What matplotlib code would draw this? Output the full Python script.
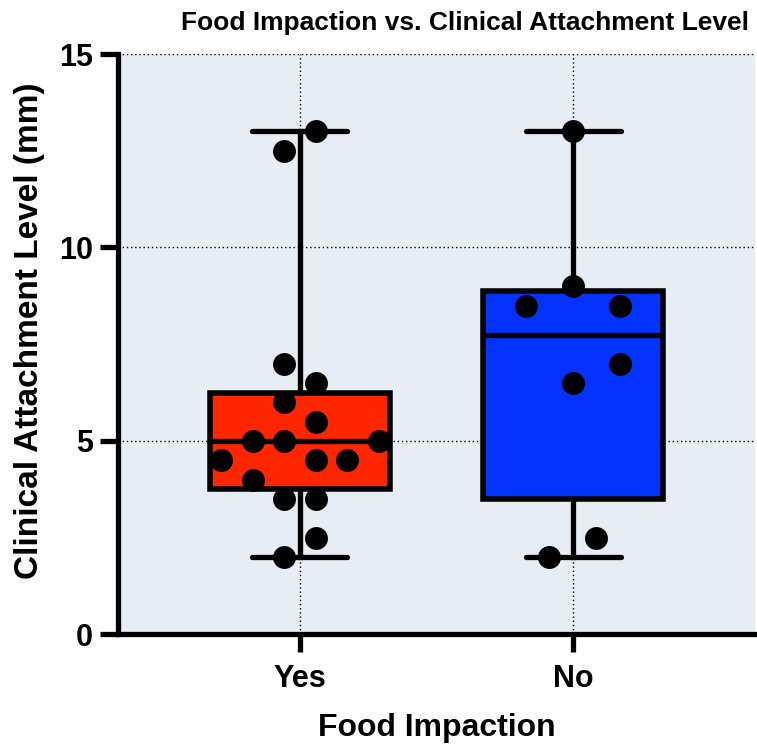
import numpy as np
import matplotlib
matplotlib.use("Agg")
import matplotlib.pyplot as plt

plt.rcParams['font.family'] = ['Liberation Sans', 'DejaVu Sans']
plt.rcParams['font.weight'] = 'bold'

# clinical attachment level (mm) per group
groups = ["Yes", "No"]
cal_yes = [7.0, 6.5, 6.0, 5.5, 5.0, 5.0, 5.0, 4.5, 4.5, 4.5, 4.0, 3.5, 3.5, 2.5, 2.0, 12.5, 13.0]
cal_no = [13.0, 9.0, 8.5, 8.5, 7.0, 6.5, 2.5, 2.0]

# horizontal scatter of the dots inside each column
jitter_yes = [-0.058, 0.058, -0.058, 0.058, -0.172, -0.058, 0.29, -0.288, 0.058, 0.172,
              -0.172, -0.058, 0.058, 0.058, -0.058, -0.058, 0.058]
jitter_no = [0.0, 0.0, -0.172, 0.17, 0.17, 0.0, 0.085, -0.087]

box_colors = ["#FF2600", "#0433FF"]
bg = "#E6EDF5"


def box_stats(vals):
    v = np.asarray(vals)
    q1, med, q3 = np.percentile(v, [25, 50, 75], method="weibull")
    return dict(med=med, q1=q1, q3=q3, whislo=v.min(), whishi=v.max(), fliers=[])


fig = plt.figure(figsize=(7.57, 7.49), dpi=100)
ax = fig.add_axes([118 / 757, 0.1529, 637 / 757, 0.775])
ax.set_facecolor(bg)

stats = [box_stats(cal_yes), box_stats(cal_no)]
bp = ax.bxp(stats, positions=[0, 1], widths=0.66, capwidths=0.347, patch_artist=True,
            showfliers=False,
            boxprops=dict(linewidth=4.0, edgecolor="black"),
            whiskerprops=dict(linewidth=3.8, color="black"),
            capprops=dict(linewidth=3.8, color="black", solid_capstyle="round"),
            medianprops=dict(linewidth=3.8, color="black"))
for patch, c in zip(bp["boxes"], box_colors):
    patch.set_facecolor(c)
    patch.set_zorder(2)
for ln in bp["whiskers"] + bp["caps"] + bp["medians"]:
    ln.set_zorder(2.5)

for i, (vals, jit) in enumerate([(cal_yes, jitter_yes), (cal_no, jitter_no)]):
    ax.plot(np.array(jit) + i, vals, "o", color="black", markersize=16.5, zorder=4,
            markeredgewidth=0)

ax.set_xlim(-0.665, 1.665)
ax.set_ylim(0, 15)
ax.set_yticks([0, 5, 10, 15])
ax.set_xticks([0, 1])
ax.set_xticklabels(groups)
ax.grid(True, linestyle=(0, (1, 2)), linewidth=1.0, color="black")
ax.set_axisbelow(True)

for s in ["top", "right"]:
    ax.spines[s].set_visible(False)
for s in ["left", "bottom"]:
    ax.spines[s].set_linewidth(3.8)
ax.tick_params(axis="both", width=3.8, length=13, labelsize=22)
ax.tick_params(axis="x", pad=8)
ax.tick_params(axis="y", pad=5)

ax.set_xlabel("Food Impaction", fontsize=23, fontweight="bold", labelpad=14)
ax.set_ylabel("Clinical Attachment Level (mm)", fontsize=24, fontweight="bold")
ax.yaxis.set_label_coords(-0.115, 0.523)
fig.text(465 / 757, 1 - 23 / 749, "Food Impaction vs. Clinical Attachment Level",
         fontsize=19, fontweight="bold", ha="center", va="center")

fig.savefig("out.png", dpi=100)
